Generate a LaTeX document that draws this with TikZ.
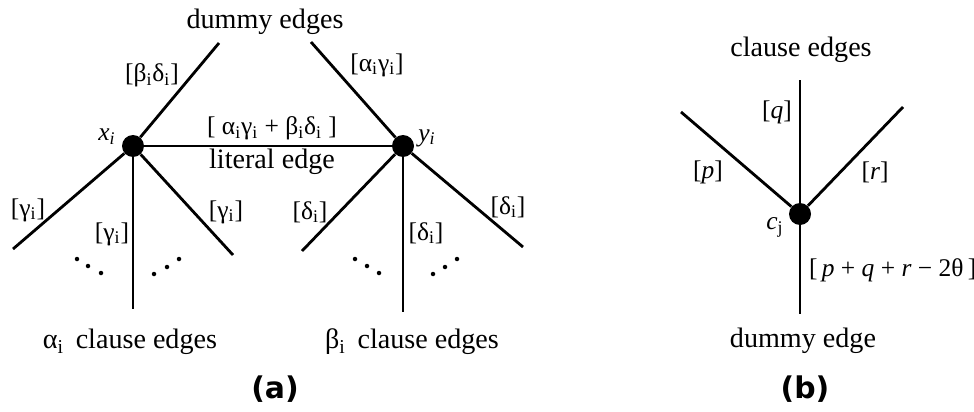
\documentclass[tikz,border=0pt]{standalone}
\usepackage{fontspec}
\setmainfont{Liberation Serif}
\newfontfamily\tagfont{DejaVu Sans}
\usetikzlibrary{positioning}

\newcommand{\idx}[1]{#1\textsubscript{i}}

\begin{document}
\begin{tikzpicture}[
  vtx/.style  = {circle, fill=black, inner sep=0pt, minimum size=4.4mm},
  edge/.style = {line width=1.6pt},
  lbl/.style  = {font=\fontsize{14.5}{17}\selectfont, inner sep=1pt},
  ttl/.style  = {font=\fontsize{16}{19}\selectfont, inner sep=1pt},
  tag/.style  = {font=\tagfont\bfseries\fontsize{17}{20}\selectfont},
]
\useasboundingbox (0,0) rectangle (19.48,8.22);

% --- (a): nodes ----------------------------------------------------------
\node[vtx] (x) at (2.66,5.30) {};
\node[vtx] (y) at (8.06,5.30) {};
\node[lbl] at (2.14,5.48) {\textit{x}\textsubscript{\textit{i}}};
\node[lbl] at (8.54,5.46) {\textit{y}\textsubscript{\textit{i}}};

\coordinate (xd) at (4.38,7.36);
\coordinate (yd) at (6.22,7.38);
\coordinate (xl) at (0.26,3.24);
\coordinate (xm) at (2.66,2.04);
\coordinate (xr) at (4.66,3.12);
\coordinate (yl) at (6.04,3.20);
\coordinate (ym) at (8.06,1.98);
\coordinate (yr) at (10.46,3.28);

% --- (a): edges ----------------------------------------------------------
\draw[edge] (x) -- (xd);
\draw[edge] (y) -- (yd);
\draw[edge] (x) -- (y);
\draw[edge] (x) -- (xl);
\draw[edge] (x) -- (xm);
\draw[edge] (x) -- (xr);
\draw[edge] (y) -- (yl);
\draw[edge] (y) -- (ym);
\draw[edge] (y) -- (yr);

\foreach \p in {(1.54,3.04),(1.76,2.90),(2.02,2.76),(3.08,2.74),(3.34,2.88),(3.58,3.04),
                (7.10,3.04),(7.34,2.90),(7.58,2.76),(8.66,2.74),(8.90,2.88),(9.14,3.04)}
  \fill \p circle (0.45mm);

% --- (a): labels ---------------------------------------------------------
\node[ttl] at (5.30,7.78) {dummy edges};
\node[lbl] at (3.04,6.72) {[\idx{β}\idx{δ}]};
\node[lbl] at (7.54,6.92) {[\idx{α}\idx{γ}]};
\node[lbl] at (5.44,5.66) {[ \idx{α}\idx{γ} + \idx{β}\idx{δ} ]};
\node[ttl] at (5.44,4.98) {literal edge};
\node[lbl] at (0.56,4.02) {[\idx{γ}]};
\node[lbl] at (2.24,3.54) {[\idx{γ}]};
\node[lbl] at (4.52,3.98) {[\idx{γ}]};
\node[lbl] at (6.20,3.98) {[\idx{δ}]};
\node[lbl] at (8.52,3.56) {[\idx{δ}]};
\node[lbl] at (10.16,4.08) {[\idx{δ}]};
\node[ttl] at (2.60,1.38) {\idx{α}\, clause edges};
\node[ttl] at (8.24,1.38) {\idx{β}\, clause edges};
\node[tag] at (5.50,0.44) {(a)};

% --- (b) -----------------------------------------------------------------
\node[vtx] (c) at (16.00,3.94) {};
\node[lbl] at (15.50,3.68) {\textit{c}\textsubscript{j}};
\coordinate (cp) at (13.62,5.98);
\coordinate (cq) at (16.00,6.62);
\coordinate (cr) at (18.06,6.08);
\coordinate (cd) at (16.00,1.94);

\draw[edge] (c) -- (cp);
\draw[edge] (c) -- (cq);
\draw[edge] (c) -- (cr);
\draw[edge] (c) -- (cd);

\node[ttl] at (16.02,7.22) {clause edges};
\node[lbl] at (15.54,5.98) {[\textit{q}]};
\node[lbl] at (14.16,4.78) {[\textit{p}]};
\node[lbl] at (17.50,4.78) {[\textit{r}]};
\node[lbl, anchor=west] at (16.14,2.82) {[\,\textit{p} + \textit{q} + \textit{r} − 2θ\,]};
\node[ttl] at (16.06,1.40) {dummy edge};
\node[tag] at (16.10,0.44) {(b)};

\end{tikzpicture}
\end{document}
